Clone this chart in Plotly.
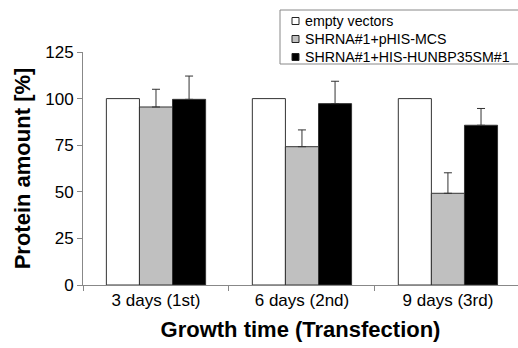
import plotly.graph_objects as go

categories = ["3 days (1st)", "6 days (2nd)", "9 days (3rd)"]
series_names = ["empty vectors", "SHRNA#1+pHIS-MCS", "SHRNA#1+HIS-HUNBP35SM#1"]
empty_vals = [100, 100, 100]
mcs_vals = [95.5, 74.2, 49.2]
mcs_err = [9.5, 9.0, 11.0]
hunbp_vals = [99.6, 97.3, 85.7]
hunbp_err = [12.5, 12.0, 9.0]
yticks = [0, 25, 50, 75, 100, 125]
series_colors = ["white", "#c0c0c0", "black"]

font = "Liberation Sans, Arial, sans-serif"
line_col = "#333333"

W, H = 518, 348
ML, MR, MT, MB = 83, 0, 52, 63
PW, PH = W - ML - MR, H - MT - MB

def px_x(px):
    return (px - ML) / PW

def px_y(py):
    return (H - MB - py) / PH

fig = go.Figure()
values = [empty_vals, mcs_vals, hunbp_vals]
errors = [None, mcs_err, hunbp_err]
for name, col, vals, err in zip(series_names, series_colors, values, errors):
    kw = {}
    if err is not None:
        kw["error_y"] = dict(type="data", array=err, symmetric=False, arrayminus=[0] * len(err),
                             color=line_col, thickness=1, width=4)
    fig.add_trace(go.Bar(x=categories, y=vals, name=name, showlegend=False,
                         marker=dict(color=col, line=dict(color=line_col, width=1)), **kw))

# legend box drawn in paper coordinates (layout, not data)
shapes = [dict(type="rect", xref="paper", yref="paper",
               x0=px_x(280), x1=px_x(540), y0=px_y(64), y1=px_y(10),
               line=dict(color="#888888", width=1), fillcolor="white", layer="above")]
annotations = []
for i, (name, col) in enumerate(zip(series_names, series_colors)):
    cy = 21 + 18 * i
    shapes.append(dict(type="rect", xref="paper", yref="paper",
                       x0=px_x(292), x1=px_x(299), y0=px_y(cy + 3.5), y1=px_y(cy - 3.5),
                       line=dict(color="#222222", width=1), fillcolor=col, layer="above"))
    annotations.append(dict(text=name, xref="paper", yref="paper", x=px_x(303), y=px_y(cy),
                            xanchor="left", yanchor="middle", showarrow=False,
                            font=dict(size=14.2, family=font, color="black")))

fig.update_layout(
    width=W, height=H,
    margin=dict(l=ML, r=MR, t=MT, b=MB, autoexpand=False),
    paper_bgcolor="white", plot_bgcolor="white",
    barmode="group", bargap=0.32, bargroupgap=0,
    font=dict(family=font, size=15, color="black"),
    showlegend=False,
    shapes=shapes, annotations=annotations,
    xaxis=dict(range=[-0.5, 2.48], showline=True, linecolor="#888888", linewidth=1,
               ticks="outside", tickson="boundaries", ticklen=5, tickcolor="#888888",
               showgrid=False, tickfont=dict(size=17),
               title=dict(text="<b>Growth time (Transfection)</b>", font=dict(size=22), standoff=12)),
    yaxis=dict(range=[0, 125], tickvals=yticks, showline=True, linecolor="#888888", linewidth=1,
               ticks="outside", ticklen=5, tickcolor="#888888", showgrid=False,
               zeroline=False, tickfont=dict(size=17),
               title=dict(text="<b>Protein amount [%]</b>", font=dict(size=22), standoff=8)),
)

fig.write_html("out.html", config={"displayModeBar": False},
               post_script="document.body.style.margin='0';document.body.style.overflow='hidden';")
